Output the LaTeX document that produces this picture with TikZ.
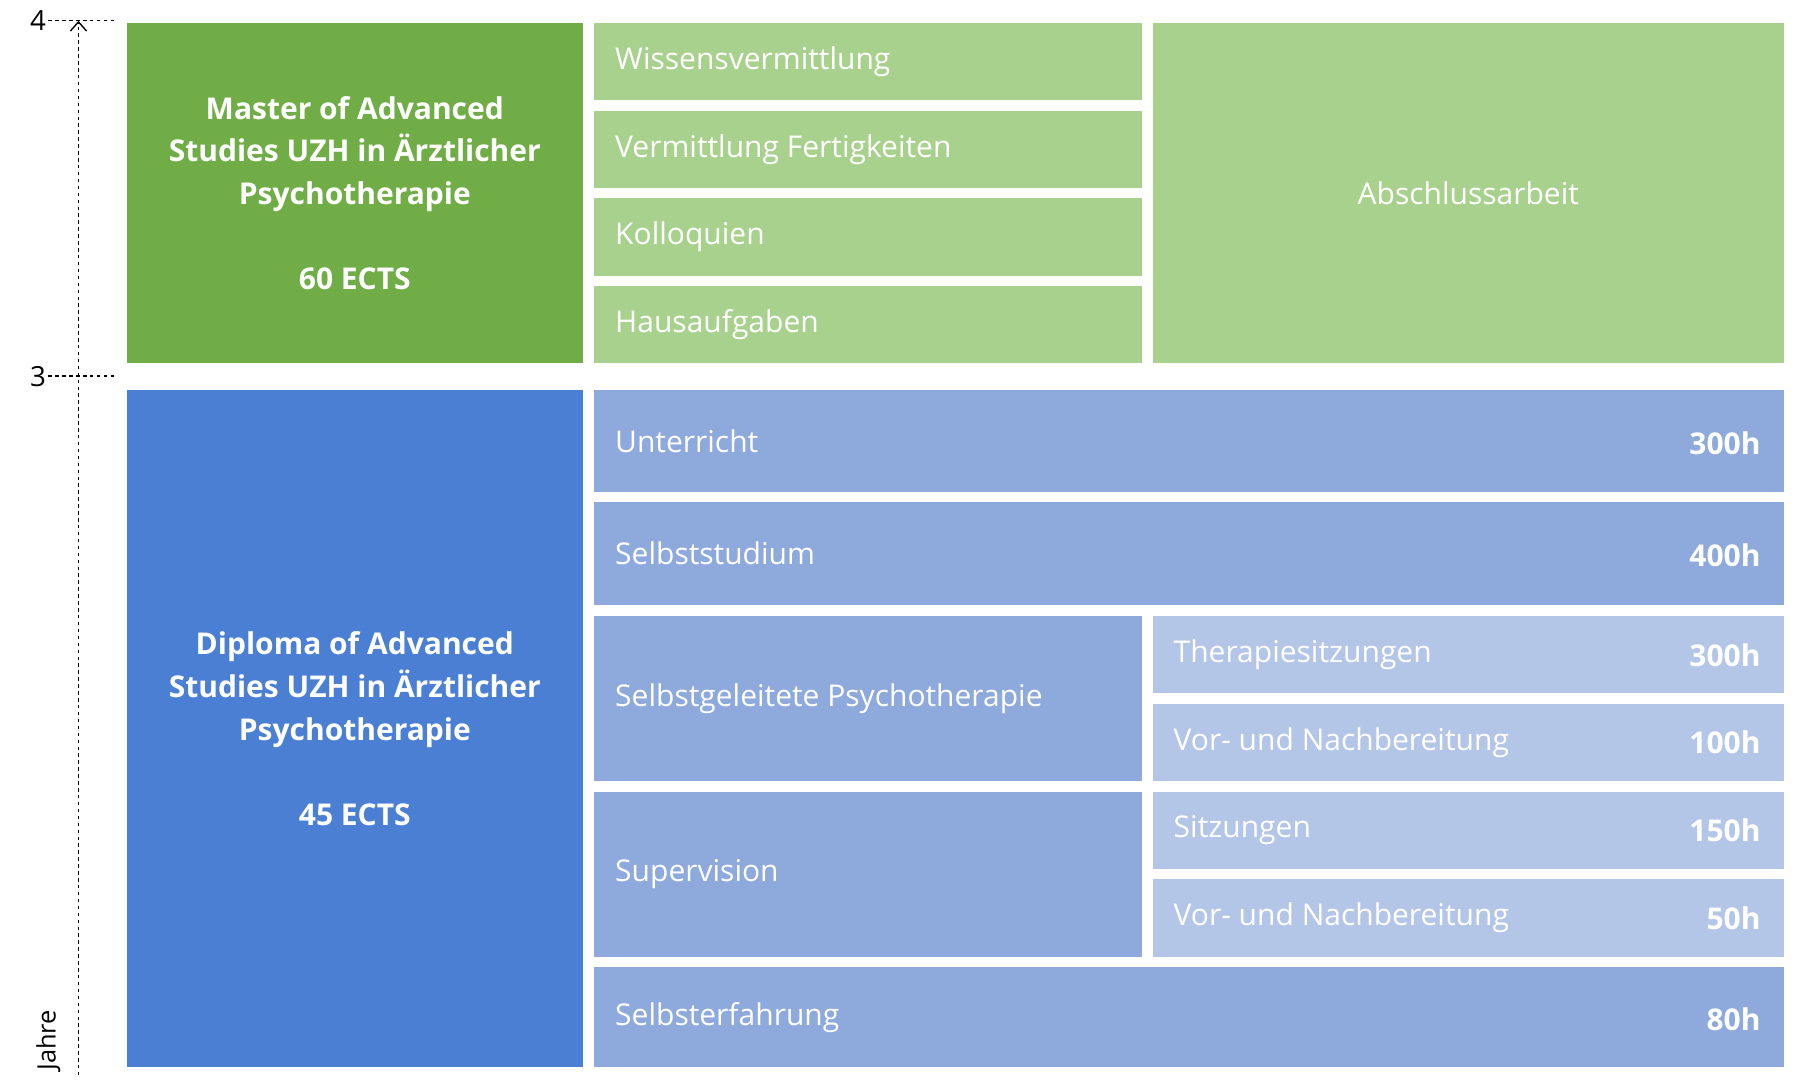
\documentclass[tikz,border=0pt]{standalone}
\usepackage{fontspec}
\setmainfont{Open Sans}
\usetikzlibrary{arrows.meta}
\definecolor{dgreen}{HTML}{70AD47}
\definecolor{lgreen}{HTML}{A9D18E}
\definecolor{dblue}{HTML}{4A7FD4}
\definecolor{mblue}{HTML}{8EA9DB}
\definecolor{lblue}{HTML}{B4C6E7}
\tikzset{
  blk/.style={inner sep=0pt,outer sep=0pt},
  lbl/.style={text=white,font=\fontsize{26}{30}\selectfont,anchor=west,inner sep=0pt},
  hrs/.style={text=white,font=\bfseries\fontsize{26}{30}\selectfont,anchor=east,inner sep=0pt},
  ttl/.style={text=white,font=\bfseries\fontsize{26}{37}\selectfont,align=center},
  ax/.style={dashed,black,line width=1.2pt}
}
\newcommand{\bx}[6]{% name, color, x1,y1,x2,y2
  \fill[#2] (#3,#4) rectangle (#5,#6);
  \coordinate (#1w) at (#3,{(#4+#6)/2});
  \coordinate (#1e) at (#5,{(#4+#6)/2});
  \coordinate (#1c) at ({(#3+#5)/2},{(#4+#6)/2});}
\begin{document}
\begin{tikzpicture}[x=1pt,y=-1pt]
\useasboundingbox[fill=white] (0,0) rectangle (1560,938);
\bx{mas}{dgreen}{110}{20}{505}{315}
\node[ttl] at (masc) {Master of Advanced\\Studies UZH in Ärztlicher\\Psychotherapie\\[0pt]\\60 ECTS};
\bx{a}{lgreen}{515}{20}{990}{87}\node[lbl] at ([xshift=18pt]aw) {Wissensvermittlung};
\bx{b}{lgreen}{515}{96}{990}{163}\node[lbl] at ([xshift=18pt]bw) {Vermittlung Fertigkeiten};
\bx{c}{lgreen}{515}{172}{990}{239}\node[lbl] at ([xshift=18pt]cw) {Kolloquien};
\bx{d}{lgreen}{515}{248}{990}{315}\node[lbl] at ([xshift=18pt]dw) {Hausaufgaben};
\bx{e}{lgreen}{999}{20}{1546}{315}\node[lbl,anchor=center] at (ec) {Abschlussarbeit};
\bx{das}{dblue}{110}{338}{505}{925}
\node[ttl] at (dasc) {Diploma of Advanced\\Studies UZH in Ärztlicher\\Psychotherapie\\[0pt]\\45 ECTS};
\bx{u}{mblue}{515}{338}{1546}{426}\node[lbl] at ([xshift=18pt]uw) {Unterricht};\node[hrs] at ([xshift=-20pt,yshift=-2pt]ue) {300h};
\bx{s}{mblue}{515}{435}{1546}{524}\node[lbl] at ([xshift=18pt]sw) {Selbststudium};\node[hrs] at ([xshift=-20pt,yshift=-2pt]se) {400h};
\bx{p}{mblue}{515}{534}{990}{677}\node[lbl] at ([xshift=18pt]pw) {Selbstgeleitete Psychotherapie};
\bx{p1}{lblue}{999}{534}{1546}{601}\node[lbl] at ([xshift=18pt]p1w) {Therapiesitzungen};\node[hrs] at ([xshift=-20pt]p1e) {300h};
\bx{p2}{lblue}{999}{610}{1546}{677}\node[lbl] at ([xshift=18pt]p2w) {Vor- und Nachbereitung};\node[hrs] at ([xshift=-20pt]p2e) {100h};
\bx{v}{mblue}{515}{686}{990}{829}\node[lbl] at ([xshift=18pt]vw) {Supervision};
\bx{v1}{lblue}{999}{686}{1546}{753}\node[lbl] at ([xshift=18pt]v1w) {Sitzungen};\node[hrs] at ([xshift=-20pt]v1e) {150h};
\bx{v2}{lblue}{999}{762}{1546}{829}\node[lbl] at ([xshift=18pt]v2w) {Vor- und Nachbereitung};\node[hrs] at ([xshift=-20pt]v2e) {50h};
\bx{f}{mblue}{515}{838}{1546}{925}\node[lbl] at ([xshift=18pt]fw) {Selbsterfahrung};\node[hrs] at ([xshift=-20pt,yshift=-2pt]fe) {80h};
% axis
\coordinate (abot) at (68,932);
\coordinate (atop) at (68,18);
\draw[ax,-{Straight Barb[length=8pt,width=14pt]}] (abot) -- (atop);
\coordinate (t4a) at (42,18);\coordinate (t4b) at (100,18);
\coordinate (t3a) at (42,326);\coordinate (t3b) at (100,326);
\draw[ax] (t4a) -- (t4b);
\draw[ax] (t3a) -- (t3b);
\node[anchor=east,font=\fontsize{24}{28}\selectfont,inner sep=2pt] (l4) at (t4a) {4};
\node[anchor=east,font=\fontsize{24}{28}\selectfont,inner sep=2pt] (l3) at (t3a) {3};
\node[rotate=90,font=\fontsize{22}{26}\selectfont,anchor=west,inner sep=0pt] (jahre) at (42,928) {Jahre};
\end{tikzpicture}
\end{document}
